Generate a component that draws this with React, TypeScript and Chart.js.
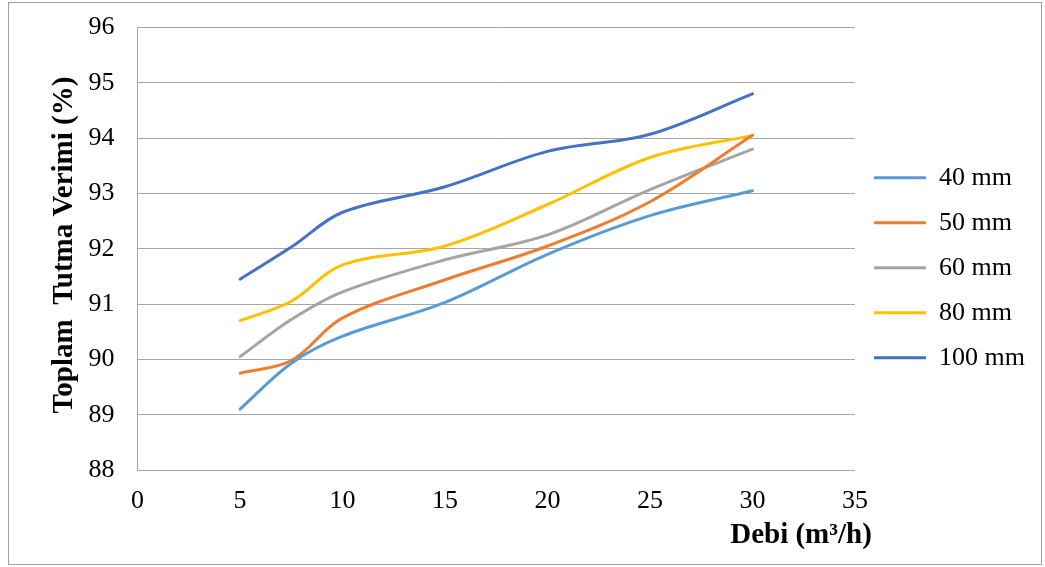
import React, { useEffect, useRef } from "react";
import { Chart, registerables } from "chart.js";

Chart.register(...registerables);

const xValues = [5, 7.5, 10, 15, 20, 25, 30];
const seriesNames = ["40 mm", "50 mm", "60 mm", "80 mm", "100 mm"];
const s40 = [89.1, 89.93, 90.42, 91.03, 91.9, 92.6, 93.05];
const s50 = [89.75, 89.98, 90.75, 91.44, 92.05, 92.85, 94.05];
const s60 = [90.05, 90.72, 91.22, 91.8, 92.25, 93.07, 93.8];
const s80 = [90.7, 91.05, 91.71, 92.05, 92.8, 93.65, 94.05];
const s100 = [91.45, 92.03, 92.66, 93.12, 93.76, 94.07, 94.8];
const seriesValues = [s40, s50, s60, s80, s100];
const seriesColors = ["#5B9BD5", "#ED7D31", "#A5A5A5", "#FFC000", "#4472C4"];

const xTitle = "Debi (m³/h)";
const yTitle = "Toplam  Tutma Verimi (%)";

const FONT = "'Liberation Serif', 'Times New Roman', serif";

const chromePlugin = {
  id: "chrome",
  beforeDraw(chart: any) {
    const ctx = chart.ctx;
    ctx.save();
    ctx.fillStyle = "#ffffff";
    ctx.fillRect(0, 0, chart.width, chart.height);
    ctx.strokeStyle = "#a0a0a0";
    ctx.lineWidth = 1;
    ctx.strokeRect(8.5, 2.5, 1033, 562);
    ctx.restore();
  },
  afterDraw(chart: any) {
    const ctx = chart.ctx;
    ctx.save();
    ctx.fillStyle = "#000000";
    ctx.font = `bold 29px ${FONT}`;
    ctx.textAlign = "center";
    ctx.textBaseline = "alphabetic";
    ctx.fillText(xTitle, 801, 543);
    ctx.translate(72, 245);
    ctx.rotate(-Math.PI / 2);
    ctx.font = `bold 29px ${FONT}`;
    ctx.fillText(yTitle, 0, 0);
    ctx.restore();
  },
};

export default function App() {
  const ref = useRef<HTMLCanvasElement>(null);
  useEffect(() => {
    if (!ref.current) return;
    const datasets = seriesNames.map((name, i) => ({
      label: name,
      data: xValues.map((x, j) => ({ x, y: seriesValues[i][j] })),
      borderColor: seriesColors[i],
      backgroundColor: seriesColors[i],
      borderWidth: 3,
      borderCapStyle: "round" as const,
      borderJoinStyle: "round" as const,
      pointRadius: 0,
      pointHoverRadius: 0,
      tension: 0.35,
      fill: false,
    }));
    const chart = new Chart(ref.current, {
      type: "line",
      data: { datasets },
      options: {
        animation: false,
        responsive: false,
        devicePixelRatio: 1,
        layout: { padding: { left: 0, top: 27.5, right: 20, bottom: 0 } },
        plugins: {
          tooltip: { enabled: false },
          legend: {
            position: "right",
            fullSize: false,
            align: "center",
            maxWidth: 170,
            title: { display: true, text: "", font: { size: 10 }, padding: 13 },
            labels: {
              usePointStyle: true,
              pointStyle: "line",
              pointStyleWidth: 52,
              boxWidth: 52,
              padding: 19,
              color: "#000000",
              font: { family: FONT, size: 26 },
            },
          },
        },
        scales: {
          x: {
            type: "linear",
            min: 0,
            max: 35,
            ticks: {
              stepSize: 5,
              padding: 16,
              color: "#000000",
              font: { family: FONT, size: 26 },
              maxRotation: 0,
            },
            grid: { display: false, drawTicks: false },
            border: { display: false },
            afterFit: (scale: any) => {
              scale.height = 97;
              scale.paddingLeft = 0;
              scale.paddingRight = 0;
            },
          },
          y: {
            min: 88,
            max: 96,
            ticks: {
              stepSize: 1,
              padding: 23,
              color: "#000000",
              font: { family: FONT, size: 26 },
            },
            grid: { color: "#a6a6a6", lineWidth: 1, drawTicks: false },
            border: { display: true, color: "#a6a6a6", width: 1 },
            afterFit: (scale: any) => {
              scale.width = 137.6;
              scale.paddingTop = 0;
              scale.paddingBottom = 0;
            },
          },
        },
      },
      plugins: [chromePlugin],
    });
    return () => chart.destroy();
  }, []);
  return (
    <div style={{ position: "absolute", left: 0, top: 0, width: 1045, height: 567 }}>
      <canvas ref={ref} width={1045} height={567} style={{ display: "block" }} />
    </div>
  );
}
